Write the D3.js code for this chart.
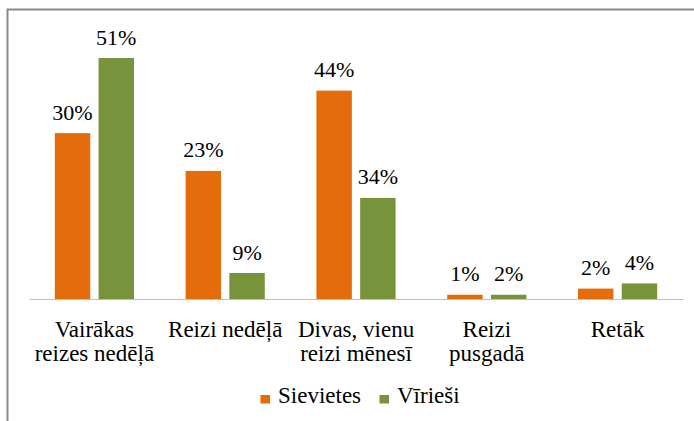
<!DOCTYPE html>
<html>
<head>
<meta charset="utf-8">
<script src="https://cdn.jsdelivr.net/npm/d3@7"></script>
<style>
  body { margin: 0; background: #fff; }
</style>
</head>
<body>
<div class="chart"></div>
<script>
// Width and height
var w = 694;
var h = 421;

// plot area (baseline at bottom)
margin = ({top: 15.5, right: 11, bottom: 122, left: 29});

var fontFamily = "Liberation Serif";

// categories (label lines)
var categories = [
    ["Vairākas", "reizes nedēļā"],
    ["Reizi nedēļā"],
    ["Divas, vienu", "reizi mēnesī"],
    ["Reizi", "pusgadā"],
    ["Retāk"]
];
var seriesNames = ["Sievietes", "Vīrieši"];
var colours = ["#E46C0A", "#77933C"];

// bar heights as drawn in the picture (percent)
var sievietesBars = [35.1, 27.1, 44.1, 0.9, 2.2];
var viriesiBars = [51, 5.5, 21.4, 0.9, 3.3];

// printed data labels
var sievietesLabels = ["30%", "23%", "44%", "1%", "2%"];
var viriesiLabels = ["51%", "9%", "34%", "2%", "4%"];

var data = categories.map(function(c, i) {
    return {
        key: i,
        lines: c,
        values: [
            {series: 0, value: sievietesBars[i], label: sievietesLabels[i]},
            {series: 1, value: viriesiBars[i], label: viriesiLabels[i]}
        ]
    };
});

var svg = d3.select(".chart")
    .append("svg")
    .attr("width", w)
    .attr("height", h)
    .attr("font-family", fontFamily);

// outer frame (only top and left visible)
svg.append("path")
    .attr("d", "M7.5," + h + "V9.5H" + (w + 2))
    .attr("fill", "none")
    .attr("stroke", "#8a8a8a")
    .attr("stroke-width", 2);

// scales
var x0 = d3.scaleBand()
    .domain(data.map(function(d) { return d.key; }))
    .range([margin.left, w - margin.right])
    .paddingInner(0)
    .paddingOuter(0);

var x1 = d3.scaleBand()
    .domain([0, 1])
    .range([0, x0.bandwidth()])
    .paddingInner(0.19)
    .paddingOuter(0.59);

var yScale = d3.scaleLinear()
    .domain([0, 60])
    .range([h - margin.bottom, margin.top]);

// bars
var groups = svg.selectAll("g.group")
    .data(data)
    .enter()
    .append("g")
    .attr("class", "group")
    .attr("transform", function(d) { return "translate(" + x0(d.key) + ",0)"; });

groups.selectAll("rect")
    .data(function(d) { return d.values; })
    .enter()
    .append("rect")
    .attr("x", function(d) { return x1(d.series); })
    .attr("y", function(d) { return yScale(d.value); })
    .attr("width", x1.bandwidth())
    .attr("height", function(d) { return yScale(0) - yScale(d.value); })
    .style("fill", function(d) { return colours[d.series]; });

// data labels
groups.selectAll("text.val")
    .data(function(d) { return d.values; })
    .enter()
    .append("text")
    .attr("class", "val")
    .attr("x", function(d) { return x1(d.series) + x1.bandwidth() / 2; })
    .attr("y", function(d) { return yScale(d.value) - 13.5; })
    .attr("text-anchor", "middle")
    .attr("font-family", fontFamily)
    .attr("font-size", 22)
    .text(function(d) { return d.label; });

// x axis line (no ticks)
var xAxis = d3.axisBottom(x0).tickSize(0).tickFormat("");
var axisG = svg.append("g")
    .attr("transform", "translate(0," + yScale(0) + ")")
    .call(xAxis);
axisG.select(".domain").attr("stroke", "#bfbfbf").attr("stroke-width", 1.2);
axisG.selectAll(".tick").remove();

// category labels
var catText = svg.selectAll("text.cat")
    .data(data)
    .enter()
    .append("text")
    .attr("class", "cat")
    .attr("text-anchor", "middle")
    .attr("font-family", fontFamily)
    .attr("font-size", 23)
    .attr("transform", function(d) { return "translate(" + (x0(d.key) + x0.bandwidth() / 2) + ",336.5)"; });

catText.selectAll("tspan")
    .data(function(d) { return d.lines; })
    .enter()
    .append("tspan")
    .attr("x", 0)
    .attr("y", function(d, i) { return i * 24; })
    .text(function(d) { return d; });

// legend
var legendX = [260.5, 379.5];
seriesNames.forEach(function(name, i) {
    svg.append("rect")
        .attr("x", legendX[i])
        .attr("y", 395)
        .attr("width", 9.5)
        .attr("height", 8.5)
        .style("fill", colours[i]);
    svg.append("text")
        .attr("x", legendX[i] + 17.5)
        .attr("y", 403)
        .attr("font-family", fontFamily)
        .attr("font-size", 23)
        .text(name);
});
</script>
</body>
</html>
